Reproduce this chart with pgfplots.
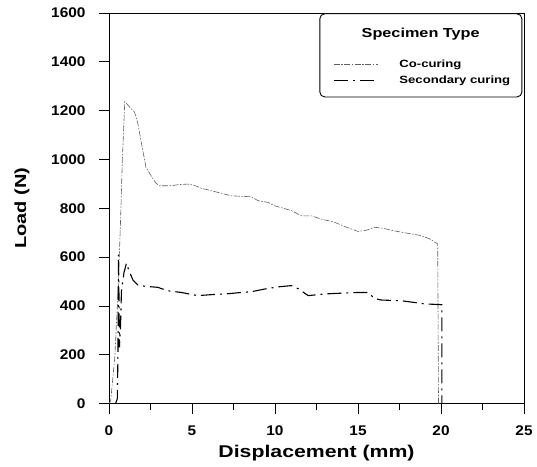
\documentclass[border=0pt]{standalone}
\usepackage{fontspec}
\setmainfont{Liberation Sans}
\newfontfamily\hvA{Liberation Sans}[FakeStretch=1.25]
\newfontfamily\hvB{Liberation Sans}[FakeStretch=1.1]
\usepackage{pgfplots}
\pgfplotsset{compat=1.18}
\begin{document}
\begin{tikzpicture}
\begin{axis}[
  name=ax,
  scale only axis,
  width=415pt, height=390.5pt,
  xmin=0, xmax=25, ymin=0, ymax=1600,
  xtick={0,5,10,15,20,25},
  ytick={0,200,400,600,800,1000,1200,1400,1600},
  minor x tick num=1,
  tick align=outside,
  xtick pos=lower, ytick pos=left,
  major tick length=10pt, minor tick length=6pt,
  xticklabel shift=9pt, yticklabel shift=10pt,
  axis line style={line width=0.9pt},
  every tick/.style={black, line width=0.7pt},
  /pgf/number format/assume math mode=true,
  /pgf/number format/set thousands separator={},
  ticklabel style={font=\hvB\bfseries\fontsize{14}{16}\selectfont},
  xlabel={Displacement (mm)},
  ylabel={Load (N)},
  label style={font=\hvA\bfseries\fontsize{17}{20}\selectfont},
  xlabel style={at={(axis description cs:0.5,-0.137)}, anchor=base},
  ylabel style={at={(axis description cs:-0.2,0.5)}, anchor=base,
    font=\hvA\bfseries\fontsize{16}{19}\selectfont},
  legend style={at={(axis description cs:0.54,0.886)}, anchor=north west,
    draw=none, fill=none, inner sep=0pt, row sep=3pt,
    font=\hvA\bfseries\fontsize{10.5}{12}\selectfont,
    /tikz/every odd column/.append style={column sep=19pt}},
  legend cell align=left,
  legend image code/.code={\draw[#1] (0pt,0pt) -- (44pt,0pt);},
]
\draw[rounded corners=5pt, line width=0.9pt, fill=white]
  (rel axis cs:0.508,0.785) rectangle (rel axis cs:0.995,0.998);
\node[font=\hvA\bfseries\fontsize{13}{15}\selectfont] at (rel axis cs:0.751,0.945) {Specimen Type};

\addplot[gray!75!black, line width=0.6pt, dash pattern=on 6pt off 1.5pt on 1.5pt off 1.5pt] coordinates {
(0,0) (0.1,10) (0.35,190) (0.55,465) (0.69,737) (0.81,1009) (0.95,1236) (1.05,1230)
(1.3,1210) (1.53,1195) (1.73,1150) (2.0,1050) (2.23,967) (2.54,933) (2.8,905) (3.04,892)
(3.74,892) (4.2,897) (4.75,899) (5.1,895) (5.56,882) (6.56,865) (7.37,851) (8.57,847)
(8.98,831) (9.58,824) (9.98,810) (10.5,800) (11.0,790) (11.6,769) (12.2,769) (12.8,755)
(13.5,745) (14.2,725) (15.0,705) (15.5,710) (16.0,722) (16.5,718) (17.0,710) (17.6,702)
(18.2,695) (18.8,688) (19.3,675) (19.8,654) (19.82,400) (19.85,0)
};
\addlegendentry{Co-curing}
\addplot[black, line width=1.1pt, dash pattern=on 14pt off 5pt on 2pt off 5pt] coordinates {
(0.4,0) (0.5,20) (0.54,200) (0.57,610) (0.6,450) (0.63,230) (0.7,330) (0.75,460) (0.9,535)
(1.05,575) (1.2,545) (1.45,505) (1.75,485) (2.2,480) (2.94,476) (3.54,462) (4.35,455)
(5.35,442) (6.16,446) (7.2,450) (7.97,455) (8.57,458) (9.38,469) (10.2,478) (10.99,483)
(11.4,470) (12.0,442) (13.0,449) (14.0,452) (15.0,455) (15.6,455) (16.0,430) (16.4,424)
(17.6,421) (18.4,414) (19.04,408) (20.05,405) (20.05,0)
};
\addlegendentry{Secondary curing}
\end{axis}
\pgfresetboundingbox
\path (ax.south west) +(-109pt,-62.5pt) rectangle +(428pt,403.5pt);
\end{tikzpicture}
\end{document}
